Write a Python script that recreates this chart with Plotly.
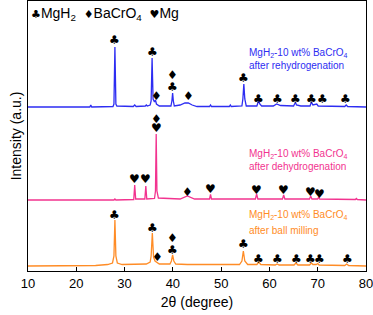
import plotly.graph_objects as go

# ---- data (2theta in degrees, intensity in arbitrary units, offset per pattern) ----
rehyd_x = [10, 22.8, 23.0, 23.2, 27.6, 27.8, 28.0, 28.2, 28.4, 31.8, 32.1, 32.4, 34.3, 34.5, 34.7,
           35.3, 35.5, 35.7, 35.9, 36.2, 36.4, 36.6, 37.2, 39.6, 39.8, 39.95, 40.1, 40.3, 41.5, 42.5,
           43.2, 44.0, 45.0, 47.6, 47.8, 48.0, 51.7, 51.9, 52.1, 54.3, 54.5, 54.7, 54.9, 55.2, 57.4,
           57.6, 57.8, 58.0, 58.4, 60.8, 61.5, 62.3, 63.5, 65.0, 65.2, 65.4, 65.6, 66.5, 68.4, 68.7,
           69.0, 69.8, 70.1, 75.6, 75.9, 76.2, 80]
rehyd_y = [164, 164, 166, 164, 164.5, 167, 224, 167, 165, 164.5, 166, 164.5, 165, 166, 165,
           166, 170, 213, 172, 169, 171, 167, 165, 165, 170, 178, 170, 165, 166, 168,
           168, 166, 164.5, 164.5, 166, 164.5, 164.5, 166, 164.5, 165, 172, 187, 172, 165, 165,
           168, 171, 167, 165, 165, 167, 165.5, 165, 165, 167, 168.5, 166, 165, 165, 169,
           166, 167, 165, 164.5, 166, 164.5, 164]

dehyd_x = [10, 22, 27.8, 28.0, 28.2, 31.9, 32.1, 32.3, 34.2, 34.4, 34.6, 36.2, 36.4, 36.55, 36.7,
           37.0, 41.5, 43.0, 44.5, 47.6, 47.8, 48.0, 57.1, 57.35, 57.6, 62.7, 62.95, 63.2, 68.3,
           68.55, 68.8, 70.0, 70.2, 70.4, 77.8, 78.0, 78.2, 80]
dehyd_y = [71, 71, 71, 72, 71, 71.5, 86, 72, 72, 85, 72, 72.5, 80, 137, 80,
           73, 72, 75, 72, 72, 76.5, 72, 72, 77, 72, 72, 76, 72, 72,
           75, 72, 72, 74, 72, 71.5, 72.5, 71.5, 71]

milled_x = [10, 24, 26.5, 27.5, 27.8, 28.0, 28.2, 28.5, 29.5, 34.5, 35.3, 35.5, 35.75, 36.0, 36.3,
            36.7, 37.2, 39.4, 39.7, 39.95, 40.2, 40.6, 43, 53.8, 54.3, 54.6, 54.9, 55.5, 57.4,
            57.8, 58.2, 61.2, 61.6, 62.0, 65.1, 65.5, 65.9, 68.3, 68.7, 69.0, 69.7, 70.0, 70.3,
            75.6, 76.0, 76.4, 80]
milled_y = [5, 5.5, 6.5, 8, 15, 51, 15, 8, 6.5, 7, 9, 15, 38, 14, 10,
            8.5, 7, 7, 10, 16, 10, 7, 6.5, 6.5, 10, 20, 10, 6.5, 6.5,
            9, 6.5, 6, 7, 6, 6, 8, 6, 6, 8, 6.5, 6.5, 7.5, 6,
            5.5, 7, 5.5, 5]

# phase markers: (symbol, 2theta, height)
CLUB, DIAM, HEART = "\u2663", "\u2666", "\u2665"
mark_sym = [CLUB, CLUB, DIAM, DIAM, CLUB, DIAM, CLUB, CLUB, CLUB, CLUB, CLUB, CLUB, CLUB,
            DIAM, HEART, HEART, HEART, DIAM, HEART, HEART, HEART, HEART, HEART,
            CLUB, CLUB, DIAM, DIAM, CLUB, CLUB, CLUB, CLUB, CLUB, CLUB, CLUB, CLUB]
mark_x = [28.0, 35.7, 36.6, 40.0, 40.0, 43.2, 54.7, 57.7, 61.6, 65.4, 68.7, 70.9, 75.8,
          36.55, 36.55, 32.1, 34.4, 43.1, 47.8, 57.4, 62.9, 68.5, 70.3,
          28.0, 35.7, 36.9, 40.0, 40.0, 54.7, 57.8, 61.6, 65.6, 68.5, 70.4, 76.1]
mark_y = [231, 219, 175, 196, 184, 175, 193, 172, 172, 172, 172, 172, 172,
          152, 143, 92, 92, 79, 82, 81, 81, 79, 77,
          56, 43, 14, 33, 21, 27, 12, 12, 12, 12, 12, 12]

x_ticks = [10, 20, 30, 40, 50, 60, 70, 80]

BLUE, PINK, ORANGE = "#2D2DF2", "#F2338F", "#FF8C26"
FONT = "Liberation Sans, Arial, sans-serif"

fig = go.Figure()
for xs, ys, c in [(rehyd_x, rehyd_y, BLUE), (dehyd_x, dehyd_y, PINK), (milled_x, milled_y, ORANGE)]:
    fig.add_trace(go.Scatter(x=xs, y=ys, mode="lines", line=dict(color=c, width=1.3),
                             showlegend=False, hoverinfo="skip"))

ann = []
for s, x, y in zip(mark_sym, mark_x, mark_y):
    ann.append(dict(x=x, y=y, xref="x", yref="y", text=s, showarrow=False,
                    font=dict(size=12, color="black", family="DejaVu Sans"),
                    xanchor="center", yanchor="middle"))

labels = [("MgH<sub>2</sub>-10 wt% BaCrO<sub>4</sub>", 218, BLUE),
          ("after rehydrogenation", 206, BLUE),
          ("MgH<sub>2</sub>-10 wt% BaCrO<sub>4</sub>", 117, PINK),
          ("after dehydrogenation", 105, PINK),
          ("MgH<sub>2</sub>-10 wt% BaCrO<sub>4</sub>", 56, ORANGE),
          ("after ball milling", 40.5, ORANGE)]
for t, y, c in labels:
    ann.append(dict(x=55.3, y=y, xref="x", yref="y", text=t, showarrow=False,
                    font=dict(size=10, color=c, family=FONT), xanchor="left", yanchor="middle"))

sm = '<span style="font-size:11px;font-family:DejaVu Sans">%s</span>'
ann.append(dict(x=10.25, y=257, xref="x", yref="y",
                text=(sm % CLUB) + "MgH<sub>2</sub>  " + (sm % DIAM) + "BaCrO<sub>4</sub>  " + (sm % HEART) + "Mg",
                showarrow=False, font=dict(size=14, color="black", family=FONT),
                xanchor="left", yanchor="middle"))

fig.update_layout(
    width=373, height=315,
    margin=dict(l=28, r=7, t=1, b=44, autoexpand=False),
    paper_bgcolor="white", plot_bgcolor="white",
    font=dict(family=FONT, color="black", size=13),
    annotations=ann,
    xaxis=dict(range=[10, 80], tickvals=x_ticks, ticks="inside", ticklen=4, tickwidth=1.2,
               tickcolor="black", showline=True, linecolor="black", linewidth=1.2, mirror=True,
               showgrid=False, zeroline=False, tickfont=dict(size=13), automargin=False,
               ticklabeloverflow="allow",
               title=dict(text="2θ (degree)", font=dict(size=14), standoff=7)),
    yaxis=dict(range=[0, 270], showticklabels=False, ticks="", showline=True, linecolor="black",
               linewidth=1.2, mirror=True, showgrid=False, zeroline=False, automargin=False,
               title=dict(text="Intensity (a.u.)", font=dict(size=14), standoff=2)),
)

fig.write_html("out.html", config={"displayModeBar": False, "staticPlot": True},
               post_script="document.body.style.margin='0';document.body.style.overflow='hidden';")
